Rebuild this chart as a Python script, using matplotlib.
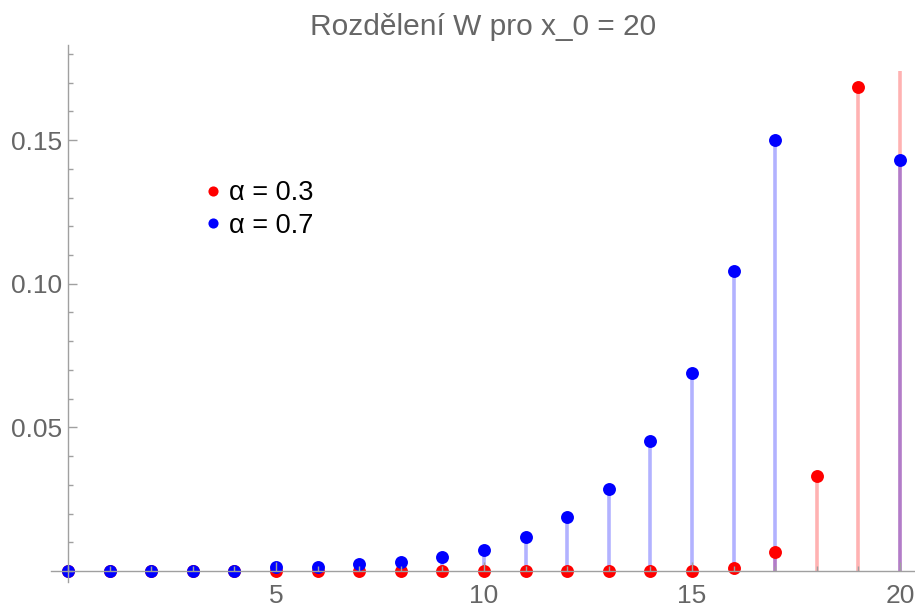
import matplotlib
matplotlib.use("Agg")
import matplotlib.pyplot as plt
from matplotlib.lines import Line2D
from matplotlib.patches import Rectangle
from matplotlib.ticker import MultipleLocator, FixedLocator, FormatStrFormatter

plt.rcParams['font.family'] = ['Liberation Sans', 'DejaVu Sans']

# P(W = k) for k = 0..20, x_0 = 20
k_red = list(range(0, 21))
p_red = [0.0001, 0.0001, 0.0001, 0.0001, 0.0001, 0.0001, 0.0001, 0.0001,
         0.0001, 0.0001, 0.0001, 0.0001, 0.0001, 0.0001, 0.0001, 0.0002,
         0.0012, 0.0065, 0.0331, 0.1685, 0.79]
k_blue = list(range(0, 18)) + [20]
p_blue = [0.0002, 0.0002, 0.0002, 0.0002, 0.0002, 0.0014, 0.0013, 0.0023,
          0.0030, 0.0048, 0.0073, 0.0117, 0.0188, 0.0284, 0.0453, 0.0690,
          0.1045, 0.1500, 0.1430]
labels = ["α = 0.3", "α = 0.7"]
title = "Rozdělení W pro x_0 = 20"

x_range = (-0.41, 20.36)
y_range = (-0.0038, 0.1831)
plot_top = 0.174

W, H = 915, 607
fig = plt.figure(figsize=(W / 100, H / 100), dpi=100)
ax = fig.add_axes([51 / W, 1 - 582 / H, (915 - 51) / W, (582 - 45) / H])
ax.set_xlim(*x_range)
ax.set_ylim(*y_range)

axis_gray = '#a0a0a0'
text_gray = '#666666'

clip = Rectangle((x_range[0], y_range[0]), x_range[1] - x_range[0],
                 plot_top - y_range[0], transform=ax.transData,
                 facecolor='none', edgecolor='none')
ax.add_patch(clip)

# filling to the axis
s1 = ax.vlines(k_red, 0, p_red, colors='red', alpha=0.3, linewidth=2.6, zorder=1)
s2 = ax.vlines(k_blue, 0, p_blue, colors='blue', alpha=0.3, linewidth=2.6, zorder=1)
s1.set_clip_path(clip)
s2.set_clip_path(clip)

ax.plot(k_red, p_red, 'o', color='red', markersize=9.3, markeredgewidth=0, zorder=2)
ax.plot(k_blue, p_blue, 'o', color='blue', markersize=9.3, markeredgewidth=0, zorder=2)

# axes through the origin
for side in ('top', 'right'):
    ax.spines[side].set_visible(False)
ax.spines['left'].set_position(('data', 0))
ax.spines['bottom'].set_position(('data', 0))
for side in ('left', 'bottom'):
    ax.spines[side].set_color(axis_gray)
    ax.spines[side].set_linewidth(1.0)
ax.set_axisbelow(False)

ax.xaxis.set_major_locator(FixedLocator([5, 10, 15, 20]))
ax.xaxis.set_minor_locator(MultipleLocator(1))
ax.yaxis.set_major_locator(FixedLocator([0.05, 0.10, 0.15]))
ax.yaxis.set_major_formatter(FormatStrFormatter('%.2f'))
ax.yaxis.set_minor_locator(MultipleLocator(0.01))

ax.tick_params(which='both', direction='in', color=axis_gray, width=1.0,
               labelcolor=text_gray, labelsize=19)
ax.tick_params(which='major', length=6.5)
ax.tick_params(which='minor', length=3.6)
ax.tick_params(axis='x', which='major', pad=9.5)
ax.tick_params(axis='y', which='major', pad=4)

ax.set_title(title, fontsize=21.5, color=text_gray, pad=7)

handles = [Line2D([], [], linestyle='none', marker='o', color='red', markersize=7.3,
                  markeredgewidth=0),
           Line2D([], [], linestyle='none', marker='o', color='blue', markersize=7.3,
                  markeredgewidth=0)]
ax.legend(handles, labels, loc='upper left',
          bbox_to_anchor=(205 / W, 1 - 180 / H), bbox_transform=fig.transFigure,
          frameon=False, fontsize=19.5, handlelength=0.6, handletextpad=0.3,
          labelspacing=0.25, borderpad=0, borderaxespad=0)

fig.savefig('out.png', dpi=100)
